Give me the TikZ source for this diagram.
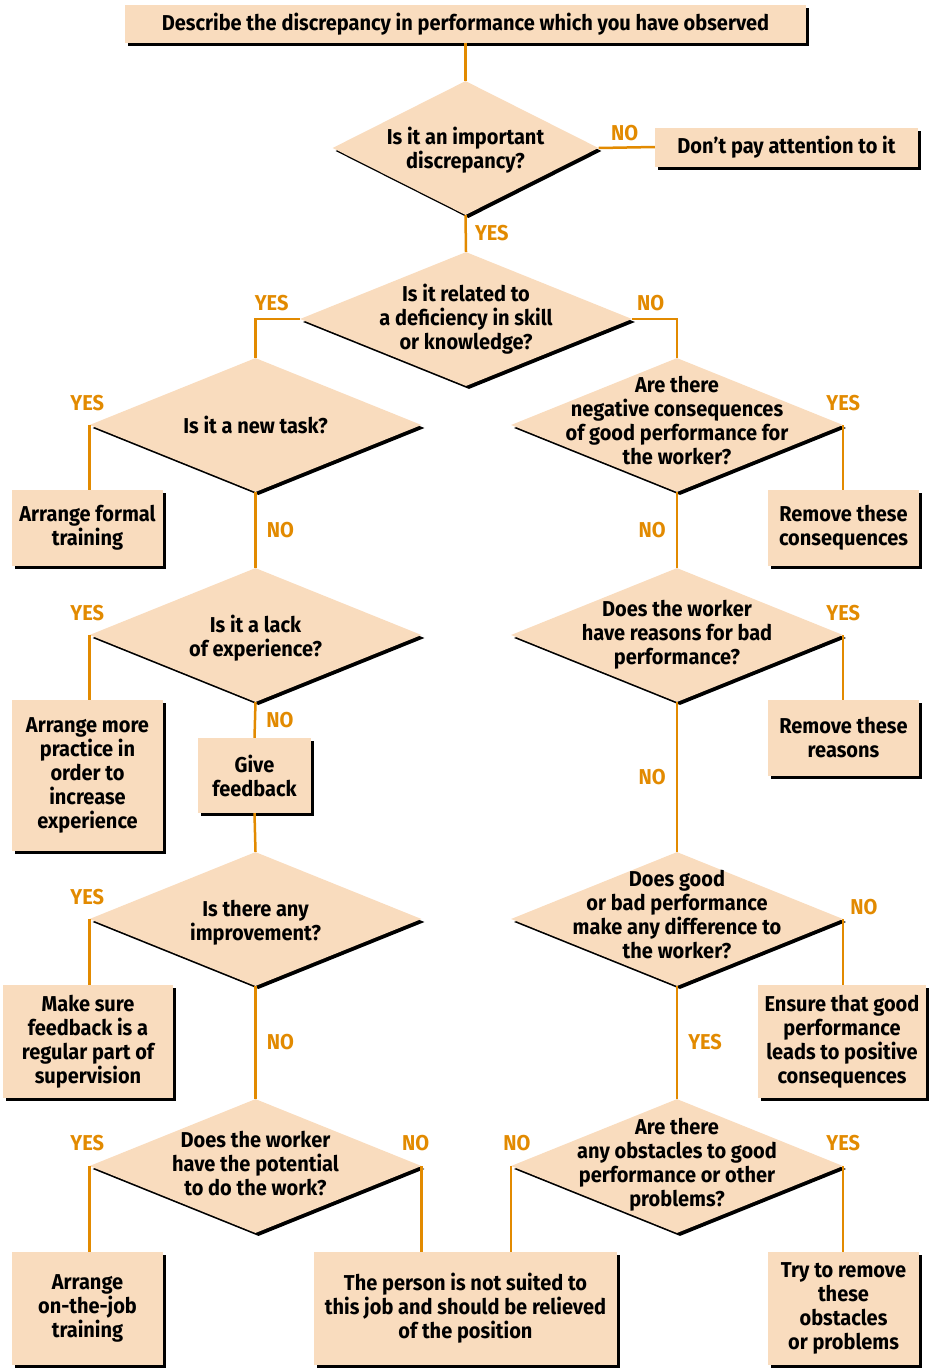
\documentclass[tikz,border=0pt]{standalone}
\usepackage{fontspec}
\setmainfont{Fira Sans}[FakeStretch=0.93]
\usepackage{tikz}
\usetikzlibrary{shapes,shadows}
\definecolor{peach}{RGB}{249,220,190}
\definecolor{amber}{RGB}{226,138,0}

\begin{document}
\begin{tikzpicture}[x=1pt, y=-1pt,
	font=\fontsize{21.5}{24}\selectfont\bfseries,
	shade/.style={drop shadow={shadow xshift=3pt, shadow yshift=-3pt, opacity=1, fill=black}},
	box/.style={fill=peach, shade, align=center, inner sep=0pt},
	question/.style={diamond, fill=peach, shade, minimum width=332pt, minimum height=134pt, inner sep=0pt},
	qtext/.style={align=center, inner sep=0pt},
	flow/.style={amber, line width=2.5pt},
	answer/.style={amber, inner sep=2pt}]
	\useasboundingbox (0,0) rectangle (930,1368);

	% top of the chart
	\node[box, minimum width=681pt, minimum height=38pt] (observe) at (465.5,24) {Describe the discrepancy in performance which you have observed};
	\node[question, minimum width=266pt, label={[qtext, yshift=-2pt]center:{Is it an important\\discrepancy?}}] (important) at (465.5,148) {};
	\node[box, minimum width=263pt, minimum height=39pt] (ignore) at (786.5,147) {Don't pay attention to it};
	\node[question, label={[qtext]center:{Is it related to\\a deficiency in skill\\or knowledge?}}] (skill) at (466,319) {};

	% left column
	\node[question, label={[qtext]center:{Is it a new task?}}] (newtask) at (255.5,425) {};
	\node[box, minimum width=151pt, minimum height=76pt] (formal) at (87.5,528) {Arrange formal\\training};
	\node[question, label={[qtext, yshift=-3pt]center:{Is it a lack\\of experience?}}] (experience) at (255.5,635) {};
	\node[box, minimum width=151pt, minimum height=151pt] (practice) at (87.5,775.5) {Arrange more\\practice in\\order to\\increase\\experience};
	\node[box, minimum width=113pt, minimum height=75pt] (feedback) at (254.5,775.5) {Give\\feedback};
	\node[question, label={[qtext, yshift=-4pt]center:{Is there any\\improvement?}}] (improve) at (255.5,919) {};
	\node[box, minimum width=170pt, minimum height=113pt] (regular) at (88,1041.5) {Make sure\\feedback is a\\regular part of\\supervision};
	\node[question, label={[qtext, yshift=2pt]center:{Does the worker\\have the potential\\to do the work?}}] (potential) at (255.5,1166) {};
	\node[box, minimum width=151pt, minimum height=113pt] (onjob) at (87.5,1308.5) {Arrange\\on-the-job\\training};
	\node[box, minimum width=303pt, minimum height=113pt] (relieve) at (465.5,1308.5) {The person is not suited to\\this job and should be relieved\\of the position};

	% right column
	\node[question, label={[qtext, yshift=4pt]center:{Are there\\negative consequences\\of good performance for\\the worker?}}] (negative) at (677,425) {};
	\node[box, minimum width=151pt, minimum height=76pt] (removecons) at (843.5,528) {Remove these\\consequences};
	\node[question, label={[qtext]center:{Does the worker\\have reasons for bad\\performance?}}] (reasons) at (677,635) {};
	\node[box, minimum width=151pt, minimum height=76pt] (removereas) at (843.5,738) {Remove these\\reasons};
	\node[question, label={[qtext, yshift=4pt]center:{Does good\\or bad performance\\make any difference to\\the worker?}}] (difference) at (677,919) {};
	\node[box, minimum width=168pt, minimum height=113pt] (ensure) at (842,1041.5) {Ensure that good\\performance\\leads to positive\\consequences};
	\node[question, label={[qtext, yshift=1pt]center:{Are there\\any obstacles to good\\performance or other\\problems?}}] (obstacles) at (677,1166) {};
	\node[box, minimum width=151pt, minimum height=113pt] (tryremove) at (843.5,1308.5) {Try to remove\\these\\obstacles\\or problems};

	% connectors
	\draw[flow] (observe.south) -- (important.north);
	\draw[flow] (important.east) -- node[answer, above=3pt, xshift=-2pt] {NO} (ignore.west);
	\draw[flow] (important.south) -- node[answer, right=6pt] {YES} (skill.north);
	\draw[flow] (skill.west) -| node[answer, pos=0.25, above=5pt, xshift=-6pt] {YES} (newtask.north);
	\draw[flow] (skill.east) -| node[answer, pos=0.25, above=5pt, xshift=-4pt] {NO} (negative.north);

	\draw[flow] (newtask.west) -- node[answer, pos=0, above=11pt, xshift=-2pt] {YES} (newtask.west |- formal.north);
	\draw[flow] (newtask.south) -- node[answer, right=8pt] {NO} (experience.north);
	\draw[flow] (experience.west) -- node[answer, pos=0, above=11pt, xshift=-2pt] {YES} (experience.west |- practice.north);
	\draw[flow] (experience.south) -- node[answer, right=8pt] {NO} (feedback.north);
	\draw[flow] (feedback.south) -- (improve.north);
	\draw[flow] (improve.west) -- node[answer, pos=0, above=11pt, xshift=-2pt] {YES} (improve.west |- regular.north);
	\draw[flow] (improve.south) -- node[answer, right=8pt] {NO} (potential.north);
	\draw[flow] (potential.west) -- node[answer, pos=0, above=12pt, xshift=-2pt] {YES} (potential.west |- onjob.north);
	\draw[flow] (potential.east) -- node[answer, pos=0, above=12pt, xshift=-6pt] {NO} (potential.east |- relieve.north);

	\draw[flow] (negative.east) -- node[answer, pos=0, above=11pt] {YES} (negative.east |- removecons.north);
	\draw[flow] (negative.south) -- node[answer, left=8pt] {NO} (reasons.north);
	\draw[flow] (reasons.east) -- node[answer, pos=0, above=11pt] {YES} (reasons.east |- removereas.north);
	\draw[flow] (reasons.south) -- node[answer, left=8pt] {NO} (difference.north);
	\draw[flow] (difference.east) -- node[answer, pos=0, above right=1pt, xshift=3pt] {NO} (difference.east |- ensure.north);
	\draw[flow] (difference.south) -- node[answer, right=8pt] {YES} (obstacles.north);
	\draw[flow] (obstacles.west) -- node[answer, pos=0, above=12pt, xshift=6pt] {NO} (obstacles.west |- relieve.north);
	\draw[flow] (obstacles.east) -- node[answer, pos=0, above=12pt] {YES} (obstacles.east |- tryremove.north);
\end{tikzpicture}
\end{document}
